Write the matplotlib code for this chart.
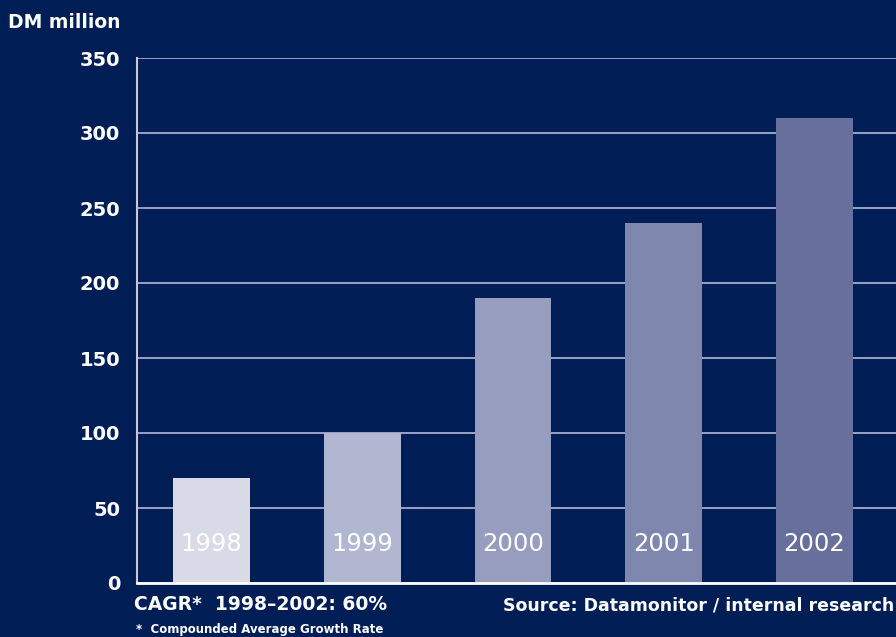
import matplotlib
matplotlib.use("Agg")
import matplotlib.pyplot as plt

years = ["1998", "1999", "2000", "2001", "2002"]
values = [70, 100, 190, 240, 310]
bar_colors = ["#d8dae8", "#b2b7d1", "#969dbf", "#7f87af", "#676f9c"]
yticks = [0, 50, 100, 150, 200, 250, 300, 350]

BG = "#001e56"
plt.rcParams['font.family'] = ['DejaVu Sans']

fig = plt.figure(figsize=(8.96, 6.37), dpi=100, facecolor=BG)
W, H = 896, 637
ax = fig.add_axes([137 / W, 1 - 583 / H, (896 - 137) / W, (583 - 58) / H])
ax.set_facecolor(BG)

x = list(range(len(years)))
ax.bar(x, values, width=0.51, color=bar_colors, zorder=2)
ax.set_xlim(-0.494, 4.54)
ax.set_ylim(0, 350)
ax.set_yticks(yticks)
ax.set_yticklabels([str(t) for t in yticks], color="white", fontsize=14, fontweight="bold")
ax.tick_params(axis="y", length=0, pad=12)
ax.set_xticks([])
ax.grid(axis="y", color="#a8acce", linewidth=1.3, zorder=0)
ax.set_axisbelow(True)
for s in ["top", "right"]:
    ax.spines[s].set_visible(False)
ax.spines["left"].set_color("#c5c8dc")
ax.spines["left"].set_linewidth(1.5)
ax.spines["bottom"].set_color("white")
ax.spines["bottom"].set_linewidth(2)
ax.spines["bottom"].set_zorder(3)

for xi, yr in zip(x, years):
    ax.text(xi, 26, yr, ha="center", va="center", color="white", fontsize=17.5,
            fontweight="medium", zorder=4)

fig.text(8 / W, 1 - 22 / H, "DM million", color="white", fontsize=13.5,
         fontweight="bold", ha="left", va="center")
fig.text(134 / W, 1 - 605 / H, "CAGR*  1998–2002: 60%", color="white", fontsize=13.5,
         fontweight="bold", ha="left", va="center")
fig.text(136 / W, 1 - 629 / H, "*  Compounded Average Growth Rate", color="white",
         fontsize=8.5, fontweight="bold", ha="left", va="center")
fig.text(894 / W, 1 - 605 / H, "Source: Datamonitor / internal research", color="white",
         fontsize=12.5, fontweight="bold", ha="right", va="center")

fig.savefig("out.png", dpi=100, facecolor=BG)
